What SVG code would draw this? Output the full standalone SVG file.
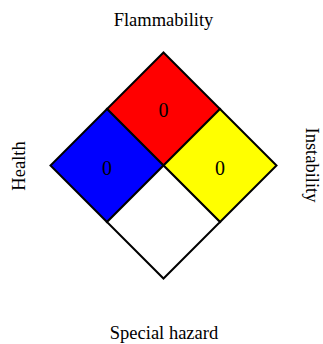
<svg xmlns="http://www.w3.org/2000/svg" width="323" height="344" viewBox="0 0 323 344">
<style>
.q{stroke:#000;stroke-width:2;stroke-linejoin:miter}
.lbl{font-family:"Liberation Serif","Times New Roman",serif;font-size:18.5px;fill:#000;text-anchor:middle}
.num{font-family:"Liberation Serif","Times New Roman",serif;font-size:20px;fill:#000;text-anchor:middle}
</style>
<rect width="323" height="344" fill="#fff"/>
<g id="flammability">
<polygon class="q" fill="#ff0000" points="163.5,52.5 220,109 163.5,165.5 107,109"/>
<text class="num" x="163.5" y="117">0</text>
</g>
<g id="health">
<polygon class="q" fill="#0000ff" points="107,109 163.5,165.5 107,222 50.5,165.5"/>
<text class="num" x="107" y="175">0</text>
</g>
<g id="instability">
<polygon class="q" fill="#ffff00" points="220,109 276.5,165.5 220,222 163.5,165.5"/>
<text class="num" x="220" y="175">0</text>
</g>
<g id="special">
<polygon class="q" fill="#ffffff" points="163.5,165.5 220,222 163.5,278.5 107,222"/>
</g>
<g id="labels">
<text class="lbl" x="163.5" y="26">Flammability</text>
<text class="lbl" x="164" y="339">Special hazard</text>
<text class="lbl" transform="translate(25,166) rotate(-90)">Health</text>
<text class="lbl" transform="translate(305.5,165) rotate(90)">Instability</text>
</g>
</svg>
